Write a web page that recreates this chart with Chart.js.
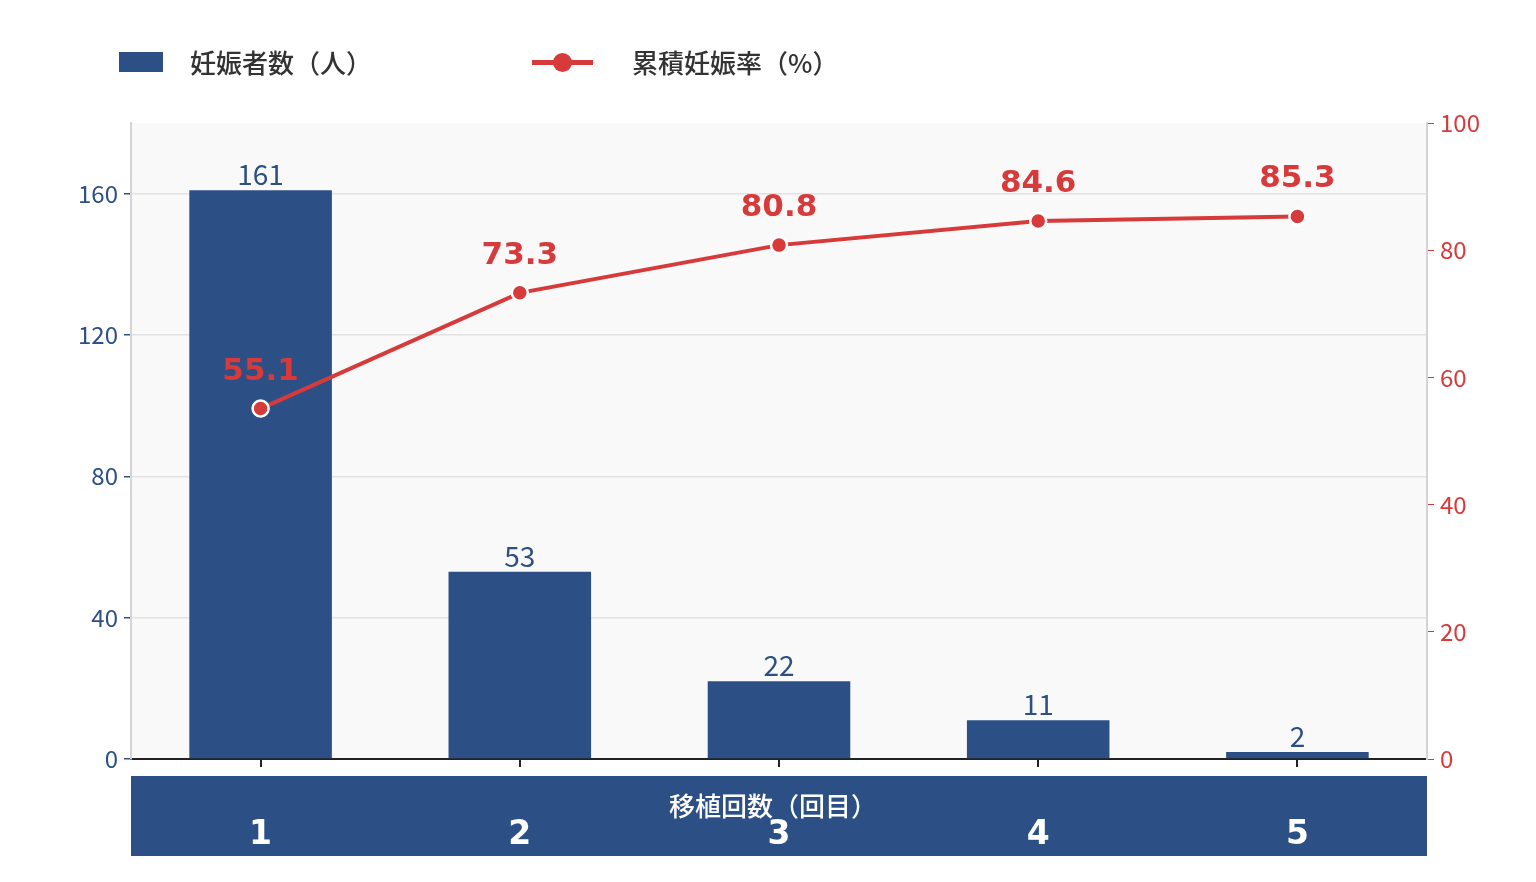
<!DOCTYPE html>
<html>
<head>
<meta charset="utf-8">
<script src="https://cdn.jsdelivr.net/npm/chart.js@4.4.1/dist/chart.umd.min.js"></script>
<style>
    html, body { margin: 0; padding: 0; background: #fff; }
    #wrap { position: relative; width: 1536px; height: 882px; }
    #legend { position: absolute; left: 0; top: 0; width: 1536px; height: 100px;
        font-family: "Noto Sans CJK JP", sans-serif; font-size: 26px; font-weight: 500; color: #333; }
    .item { position: absolute; top: 44px; height: 36px; line-height: 36px; }
    .swatch { position: absolute; top: 8px; }
    .txt { position: absolute; white-space: nowrap; }
</style>
</head>
<body>
<div id="wrap">
    <canvas id="chart" width="1536" height="882"></canvas>
    <div id="legend"></div>
</div>
<script>
// --- Data ---
const categories = ['1', '2', '3', '4', '5'];
const pregnancies = [161, 53, 22, 11, 2];
const cumulativeRate = [55.1, 73.3, 80.8, 84.6, 85.3];
const leftTicks = [0, 40, 80, 120, 160];
const rightTicks = [0, 20, 40, 60, 80, 100];
const seriesNames = ['妊娠者数（人）', '累積妊娠率（%）'];
const xTitle = '移植回数（回目）';

const BLUE = '#2c5086';
const RED = '#d63a3a';
const FONT = '"Noto Sans CJK JP", sans-serif';
const BOLD_FONT = '"DejaVu Sans", sans-serif';

// --- Legend (HTML) ---
const legend = document.getElementById('legend');
legend.innerHTML = `
    <div class="item" style="left:119px">
        <div class="swatch" style="left:0;top:8px;width:44px;height:20px;background:${BLUE}"></div>
        <div class="txt" style="left:71px">${seriesNames[0]}</div>
    </div>
    <div class="item" style="left:532px">
        <div class="swatch" style="left:0;top:16px;width:61px;height:5px;background:${RED}"></div>
        <div class="swatch" style="left:21px;top:9px;width:19px;height:19px;border-radius:50%;background:${RED}"></div>
        <div class="txt" style="left:100px">${seriesNames[1]}</div>
    </div>`;

// --- Plugins ---
const backdropPlugin = {
    id: 'backdrop',
    beforeDraw(chart) {
        const { ctx, chartArea: a, scales } = chart;
        ctx.save();
        ctx.fillStyle = '#f9f9f9';
        ctx.fillRect(a.left, a.top, a.right - a.left, a.bottom - a.top);
        // band under x axis
        ctx.fillStyle = BLUE;
        const top = a.bottom + 17;
        ctx.fillRect(a.left, top, a.right - a.left, scales.x.bottom - top);
        ctx.restore();
    },
    afterDraw(chart) {
        const { ctx, chartArea: a } = chart;
        ctx.save();
        ctx.fillStyle = '#fff';
        ctx.font = '500 26px ' + FONT;
        ctx.textAlign = 'center';
        ctx.textBaseline = 'middle';
        ctx.fillText(xTitle, (a.left + a.right) / 2 - 6, a.bottom + 47);
        ctx.restore();
    }
};

const valueLabels = {
    id: 'valueLabels',
    afterDatasetsDraw(chart) {
        const ctx = chart.ctx;
        ctx.save();
        ctx.textAlign = 'center';
        ctx.textBaseline = 'alphabetic';

        const bars = chart.getDatasetMeta(1).data;
        ctx.fillStyle = BLUE;
        ctx.font = '28px ' + FONT;
        bars.forEach((bar, i) => {
            ctx.fillText(pregnancies[i], bar.x, bar.y - 5);
        });

        const points = chart.getDatasetMeta(0).data;
        ctx.fillStyle = RED;
        ctx.font = 'bold 31px ' + BOLD_FONT;
        points.forEach((pt, i) => {
            ctx.fillText(cumulativeRate[i].toFixed(1), pt.x, pt.y - 29);
        });
        ctx.restore();
    }
};

// --- Chart ---
const ctx = document.getElementById('chart').getContext('2d');
const chart = new Chart(ctx, {
    data: {
        labels: categories,
        datasets: [{
            type: 'line',
            label: seriesNames[1],
            data: cumulativeRate,
            yAxisID: 'y1',
            borderColor: RED,
            borderWidth: 4,
            backgroundColor: RED,
            pointBackgroundColor: RED,
            pointBorderColor: '#fff',
            pointBorderWidth: 2.5,
            pointRadius: 8,
            tension: 0
        }, {
            type: 'bar',
            label: seriesNames[0],
            data: pregnancies,
            yAxisID: 'y',
            backgroundColor: BLUE,
            barPercentage: 0.55,
            categoryPercentage: 1
        }]
    },
    options: {
        responsive: false,
        animation: false,
        layout: { padding: { top: 123, bottom: 26, left: 0, right: 0 } },
        plugins: {
            legend: { display: false },
            tooltip: { enabled: false }
        },
        scales: {
            x: {
                grid: { offset: false, drawOnChartArea: false, color: '#222', tickColor: '#222', tickLength: 8, lineWidth: 2 },
                border: { color: '#222', width: 2 },
                ticks: { color: '#fff', font: { family: BOLD_FONT, size: 33, weight: 'bold' }, padding: 49 },
                afterFit(scale) { scale.height = 97; }
            },
            y: {
                position: 'left',
                min: 0,
                max: 180,
                afterBuildTicks(scale) { scale.ticks = leftTicks.map(v => ({ value: v })); },
                grid: { color: '#e2e2e2', lineWidth: 1.5, tickColor: BLUE, tickLength: 7 },
                border: { color: '#d4d4d4', width: 2 },
                ticks: { color: BLUE, font: { family: FONT, size: 24 }, padding: 6 },
                afterFit(scale) { scale.width = 131; }
            },
            y1: {
                position: 'right',
                min: 0,
                max: 100,
                afterBuildTicks(scale) { scale.ticks = rightTicks.map(v => ({ value: v })); },
                grid: { drawOnChartArea: false, tickColor: RED, tickLength: 7 },
                border: { color: '#d4d4d4', width: 2 },
                ticks: { color: RED, font: { family: FONT, size: 24 }, padding: 6 },
                afterFit(scale) { scale.width = 109; }
            }
        }
    },
    plugins: [backdropPlugin, valueLabels]
});
</script>
</body>
</html>
